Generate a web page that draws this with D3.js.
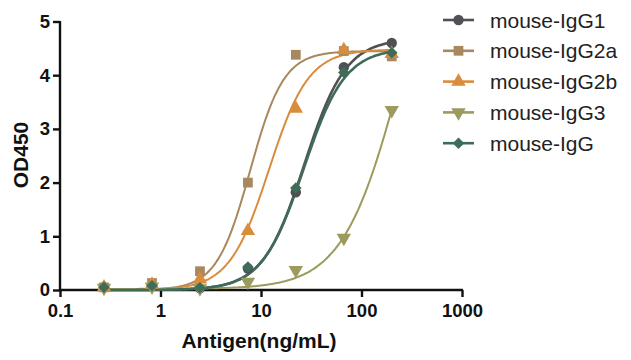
<!DOCTYPE html>
<html><head><meta charset="utf-8">
<script src="https://cdn.jsdelivr.net/npm/d3@7"></script>
<style>body{margin:0;background:#fff}svg{display:block}text{font-family:"Liberation Sans",Arial,sans-serif}</style>
</head><body><svg id="c" width="631" height="360"></svg>
<script>
const concentrations = [0.274, 0.823, 2.47, 7.41, 22.2, 66.7, 200];
const seriesNames = ["mouse-IgG1","mouse-IgG2a","mouse-IgG2b","mouse-IgG3","mouse-IgG"];
const igg1 = [0.05, 0.08, 0.03, 0.40, 1.82, 4.15, 4.60];
const igg2a = [0.05, 0.13, 0.35, 2.00, 4.38, 4.45, 4.35];
const igg2b = [0.05, 0.10, 0.20, 1.10, 3.38, 4.47, 4.40];
const igg3 = [0.04, 0.06, 0.03, 0.15, 0.37, 0.97, 3.35];
const igg = [0.05, 0.08, 0.04, 0.43, 1.90, 4.05, 4.42];
// fitted 4PL curve parameters: [bottom, top, EC50, hill]
const fitIgG1 = [0.0, 4.68, 27, 2.1];
const fitIgG2a = [0.0, 4.45, 7.8, 2.6];
const fitIgG2b = [0.0, 4.48, 12, 2.2];
const fitIgG3 = [0.02, 8.0, 249, 1.5];
const fitIgG = [0.0, 4.50, 26.5, 2.1];
const colors = ["#505055","#a8885c","#d98c3c","#9c9a5c","#3f6c59"];
const shapes = ["circle","square","triangle","invtriangle","diamond"];
const xTicks = [0.1, 1, 10, 100, 1000];
const yTicks = [0, 1, 2, 3, 4, 5];

const values = [igg1, igg2a, igg2b, igg3, igg];
const fits = [fitIgG1, fitIgG2a, fitIgG2b, fitIgG3, fitIgG];

const svg = d3.select("#c");
const x = d3.scaleLog().domain([0.1, 1000]).range([60, 462]);
const y = d3.scaleLinear().domain([0, 5]).range([290, 21.5]);

const fmt = d => String(d);
const xa = svg.append("g").attr("transform","translate(0,290)")
  .call(d3.axisBottom(x).tickValues(xTicks).tickFormat(fmt).tickSize(7).tickSizeOuter(0));
const ya = svg.append("g").attr("transform","translate(60,0)")
  .call(d3.axisLeft(y).tickValues(yTicks).tickFormat(fmt).tickSize(7).tickSizeOuter(0));
[xa, ya].forEach(a => {
  a.select(".domain").attr("stroke","#111").attr("stroke-width",2.4);
  a.selectAll(".tick line").attr("stroke","#111").attr("stroke-width",2.4);
  a.selectAll(".tick text").attr("fill","#111").attr("font-size",18.5).attr("font-weight","bold");
});
xa.selectAll(".tick text").attr("dy","0.95em").attr("y",9);
ya.selectAll(".tick text").attr("x",-10);
xa.select(".domain").attr("d","M59,0H463");
ya.select(".domain").attr("d","M0,291V21");

svg.append("text").attr("x",259).attr("y",348).attr("text-anchor","middle")
  .attr("font-size",21).attr("font-weight","bold").attr("fill","#111").text("Antigen(ng/mL)");
svg.append("text").attr("transform","translate(28,155) rotate(-90)").attr("text-anchor","middle")
  .attr("font-size",21).attr("font-weight","bold").attr("fill","#111").text("OD450");

function symPath(shape, s) {
  const types = {circle:d3.symbolCircle, square:d3.symbolSquare, triangle:d3.symbolTriangle, invtriangle:d3.symbolTriangle, diamond:d3.symbolSquare};
  const sizes = {circle:85, square:95, triangle:90, invtriangle:90, diamond:66};
  return d3.symbol().type(types[shape]).size(sizes[shape] * (s||1))();
}
function symTransform(shape, px, py) {
  if (shape === "invtriangle") return `translate(${px},${py}) rotate(180)`;
  if (shape === "diamond") return `translate(${px},${py}) rotate(45)`;
  return `translate(${px},${py})`;
}

const line = d3.line().x(d => x(d[0])).y(d => y(d[1])).curve(d3.curveBasis);
const logGrid = d3.range(0, 201).map(i => Math.pow(10, Math.log10(0.274) + i * (Math.log10(200) - Math.log10(0.274)) / 200));
const widths = [2.6, 2, 2, 2, 2.6];

values.forEach((vals, i) => {
  const [b, t, e, h] = fits[i];
  const pts = logGrid.map(c => [c, b + (t - b) / (1 + Math.pow(e / c, h))]);
  svg.append("path").attr("d", line(pts)).attr("fill","none")
    .attr("stroke", colors[i]).attr("stroke-width", widths[i]);
});
values.forEach((vals, i) => {
  svg.append("g").selectAll("path").data(vals).join("path")
    .attr("d", symPath(shapes[i]))
    .attr("transform", (d, j) => symTransform(shapes[i], x(concentrations[j]), y(d)))
    .attr("fill", colors[i]);
});

// legend
const lg = svg.append("g");
seriesNames.forEach((n, i) => {
  const yy = 20 + i * 30.8;
  lg.append("line").attr("x1",443).attr("x2",474).attr("y1",yy).attr("y2",yy)
    .attr("stroke",colors[i]).attr("stroke-width",2.6);
  lg.append("path").attr("d", symPath(shapes[i])).attr("transform", symTransform(shapes[i], 458.5, yy)).attr("fill", colors[i]);
  lg.append("text").attr("x",490).attr("y",yy).attr("dy","0.36em").attr("font-size",21)
    .attr("fill","#222").text(n);
});
</script></body></html>
